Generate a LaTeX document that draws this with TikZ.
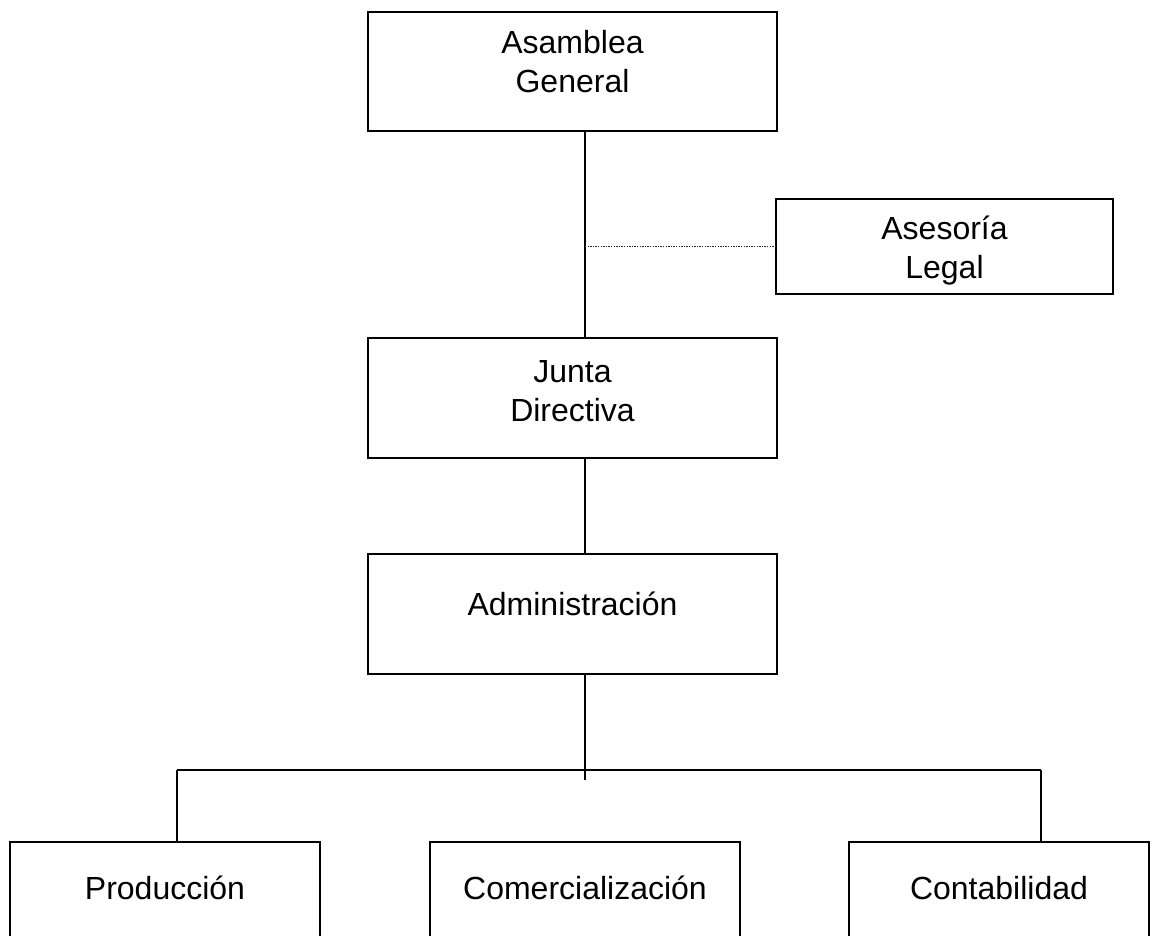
\documentclass[tikz,border=0pt]{standalone}
\usepackage{fontspec}
\setmainfont{Liberation Sans}
\usetikzlibrary{positioning, calc}

\begin{document}
\begin{tikzpicture}[x=1pt, y=-1pt,
    caja/.style={draw=black, line width=2pt, minimum width=409pt, minimum height=120pt},
    hijo/.style={caja, minimum width=310pt, minimum height=100pt},
    texto/.style={align=center, inner sep=0pt, font=\fontsize{32}{38.5}\selectfont},
    linea/.style={line width=1.6pt, black},
    asesor/.style={line width=1.4pt, black!85, dash pattern=on 1.4pt off 1.2pt}]
        \useasboundingbox (0,0) rectangle (1151,935);
        % cajas
        \node (asamblea) [caja, minimum height=119pt] at (572.5,71.5) {};
        \node (asesoria) [caja, minimum width=337pt, minimum height=95pt] at (944.5,246.5) {};
        \node (junta) [caja] at (572.5,398) {};
        \node (admin) [caja] at (572.5,614) {};
        \node (prod) [hijo] at (165,892) {};
        \node (comer) [hijo] at (585,892) {};
        \node (conta) [hijo, minimum width=300pt] at (999,892) {};
        % textos
        \node (asambleaT) [texto, yshift=10pt] at (asamblea) {Asamblea\\General};
        \node (asesoriaT) [texto, yshift=-4pt] at (asesoria) {Asesoría\\Legal};
        \node (juntaT) [texto, yshift=7pt] at (junta) {Junta\\Directiva};
        \node (adminT) [texto, yshift=10pt] at (admin) {Administración};
        \node (prodT) [texto, yshift=4pt] at (prod) {Producción};
        \node (comerT) [texto, yshift=4pt] at (comer) {Comercialización};
        \node (contaT) [texto, yshift=4pt] at (conta) {Contabilidad};
        % conectores
        \coordinate (eje) at (585,0);
        \coordinate (ejefin) at (585,780);
        \coordinate (barraI) at (177,770);
        \coordinate (barraD) at (1041,770);
        \draw[linea] (asamblea.south -| eje) -- (junta.north -| eje);
        \draw[asesor] (asesoria.west -| eje) -- (asesoria.west);
        \draw[linea] (junta.south -| eje) -- (admin.north -| eje);
        \draw[linea] (admin.south -| eje) -- (ejefin);
        \draw[linea] (barraI) -- (barraD);
        \draw[linea] (barraI) -- (barraI |- prod.north);
        \draw[linea] (barraD) -- (barraD |- conta.north);
    \end{tikzpicture}
\end{document}
